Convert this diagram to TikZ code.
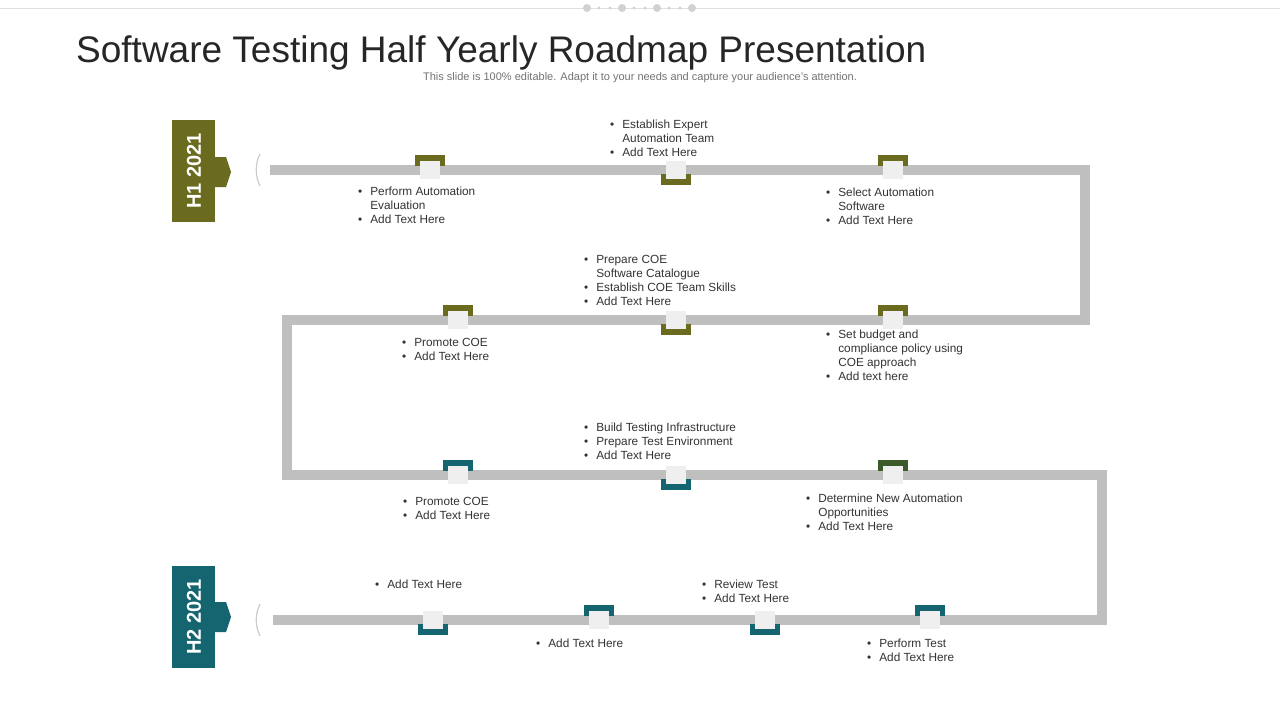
\documentclass[tikz,border=0pt]{standalone}
\usepackage{fontspec}
\setmainfont{Liberation Sans}
\definecolor{olv}{HTML}{6B6B1F}
\definecolor{tl}{HTML}{156570}
\definecolor{dg}{HTML}{3D5A2A}
\definecolor{rd}{HTML}{BFBFBF}
\definecolor{sq}{HTML}{EFEFEF}
\definecolor{tx}{HTML}{333333}
\newcommand{\mkup}[3]{\fill[#3] (#1-15,#2-15) rectangle (#1+15,#2-4); \fill[sq] (#1-10,#2-9) rectangle (#1+10,#2+9);}
\newcommand{\mkdn}[3]{\fill[#3] (#1-15,#2+15) rectangle (#1+15,#2+4); \fill[sq] (#1-10,#2+9) rectangle (#1+10,#2-9);}
\newcommand{\bl}[4]{\node[anchor=north west,inner sep=0pt,font=\fontsize{11.8}{14}\selectfont,text=tx] (#1) at (#2,#3) {\def\arraystretch{1}\begin{tabular}{@{}l@{\hspace{8pt}}l@{}}#4\end{tabular}};}
\begin{document}
\begin{tikzpicture}[x=1pt,y=-1pt]
\useasboundingbox (0,0) rectangle (1280,720);
\fill[white] (0,0) rectangle (1280,720);
% top decoration
\draw[black!12,line width=0.8] (0,8) -- (1280,8);
\foreach \x in {587,622,657,692} \fill[black!18] (\x,8) circle (4);
\foreach \x in {599,610,634,645,669,680} \fill[black!18] (\x,8) circle (1.6);
% title
\node[anchor=base west,inner sep=0pt,font=\fontsize{37}{40}\selectfont,text=black!85] (title) at (76,62) {Software Testing Half Yearly Roadmap Presentation};
\node[anchor=base,inner sep=0pt,font=\fontsize{11}{13}\selectfont,text=black!55] (sub) at (640,80) {This slide is 100\% editable. Adapt it to your needs and capture your audience's attention.};
% road
\draw[rd,line width=10] (270,170) -- (1085,170) -- (1085,320) -- (287,320) -- (287,475) -- (1102,475) -- (1102,620) -- (273,620);
\draw[black!20,line width=1.2] (260,154) .. controls (255,164) and (255,176) .. (260,186);
\draw[black!20,line width=1.2] (260,604) .. controls (255,614) and (255,626) .. (260,636);
% tabs
\fill[olv] (172,120) rectangle (215,222);
\fill[olv] (215,157) -- (226,157) -- (231,172) -- (226,187) -- (215,187) -- cycle;
\node[rotate=90,text=white,font=\bfseries\fontsize{20}{22}\selectfont] (h1) at (194,171) {H1 2021};
\fill[tl] (172,566) rectangle (215,668);
\fill[tl] (215,602) -- (226,602) -- (231,617) -- (226,632) -- (215,632) -- cycle;
\node[rotate=90,text=white,font=\bfseries\fontsize{20}{22}\selectfont] (h2) at (194,617) {H2 2021};
% markers
\mkup{430}{170}{olv} \mkdn{676}{170}{olv} \mkup{893}{170}{olv}
\mkup{458}{320}{olv} \mkdn{676}{320}{olv} \mkup{893}{320}{olv}
\mkup{458}{475}{tl} \mkdn{676}{475}{tl} \mkup{893}{475}{dg}
\mkdn{433}{620}{tl} \mkup{599}{620}{tl} \mkdn{765}{620}{tl} \mkup{930}{620}{tl}
% texts
\bl{t1}{358}{185}{\textbullet & Perform Automation\\ & Evaluation\\ \textbullet & Add Text Here}
\bl{t2}{610}{118}{\textbullet & Establish Expert\\ & Automation Team\\ \textbullet & Add Text Here}
\bl{t3}{826}{186}{\textbullet & Select Automation\\ & Software\\ \textbullet & Add Text Here}
\bl{t4}{584}{253}{\textbullet & Prepare COE\\ & Software Catalogue\\ \textbullet & Establish COE Team Skills\\ \textbullet & Add Text Here}
\bl{t5}{402}{336}{\textbullet & Promote COE\\ \textbullet & Add Text Here}
\bl{t6}{826}{328}{\textbullet & Set budget and\\ & compliance policy using\\ & COE approach\\ \textbullet & Add text here}
\bl{t7}{584}{421}{\textbullet & Build Testing Infrastructure\\ \textbullet & Prepare Test Environment\\ \textbullet & Add Text Here}
\bl{t8}{403}{495}{\textbullet & Promote COE\\ \textbullet & Add Text Here}
\bl{t9}{806}{492}{\textbullet & Determine New Automation\\ & Opportunities\\ \textbullet & Add Text Here}
\bl{t10}{375}{578}{\textbullet & Add Text Here}
\bl{t11}{702}{578}{\textbullet & Review Test\\ \textbullet & Add Text Here}
\bl{t12}{536}{637}{\textbullet & Add Text Here}
\bl{t13}{867}{637}{\textbullet & Perform Test\\ \textbullet & Add Text Here}
\end{tikzpicture}
\end{document}
